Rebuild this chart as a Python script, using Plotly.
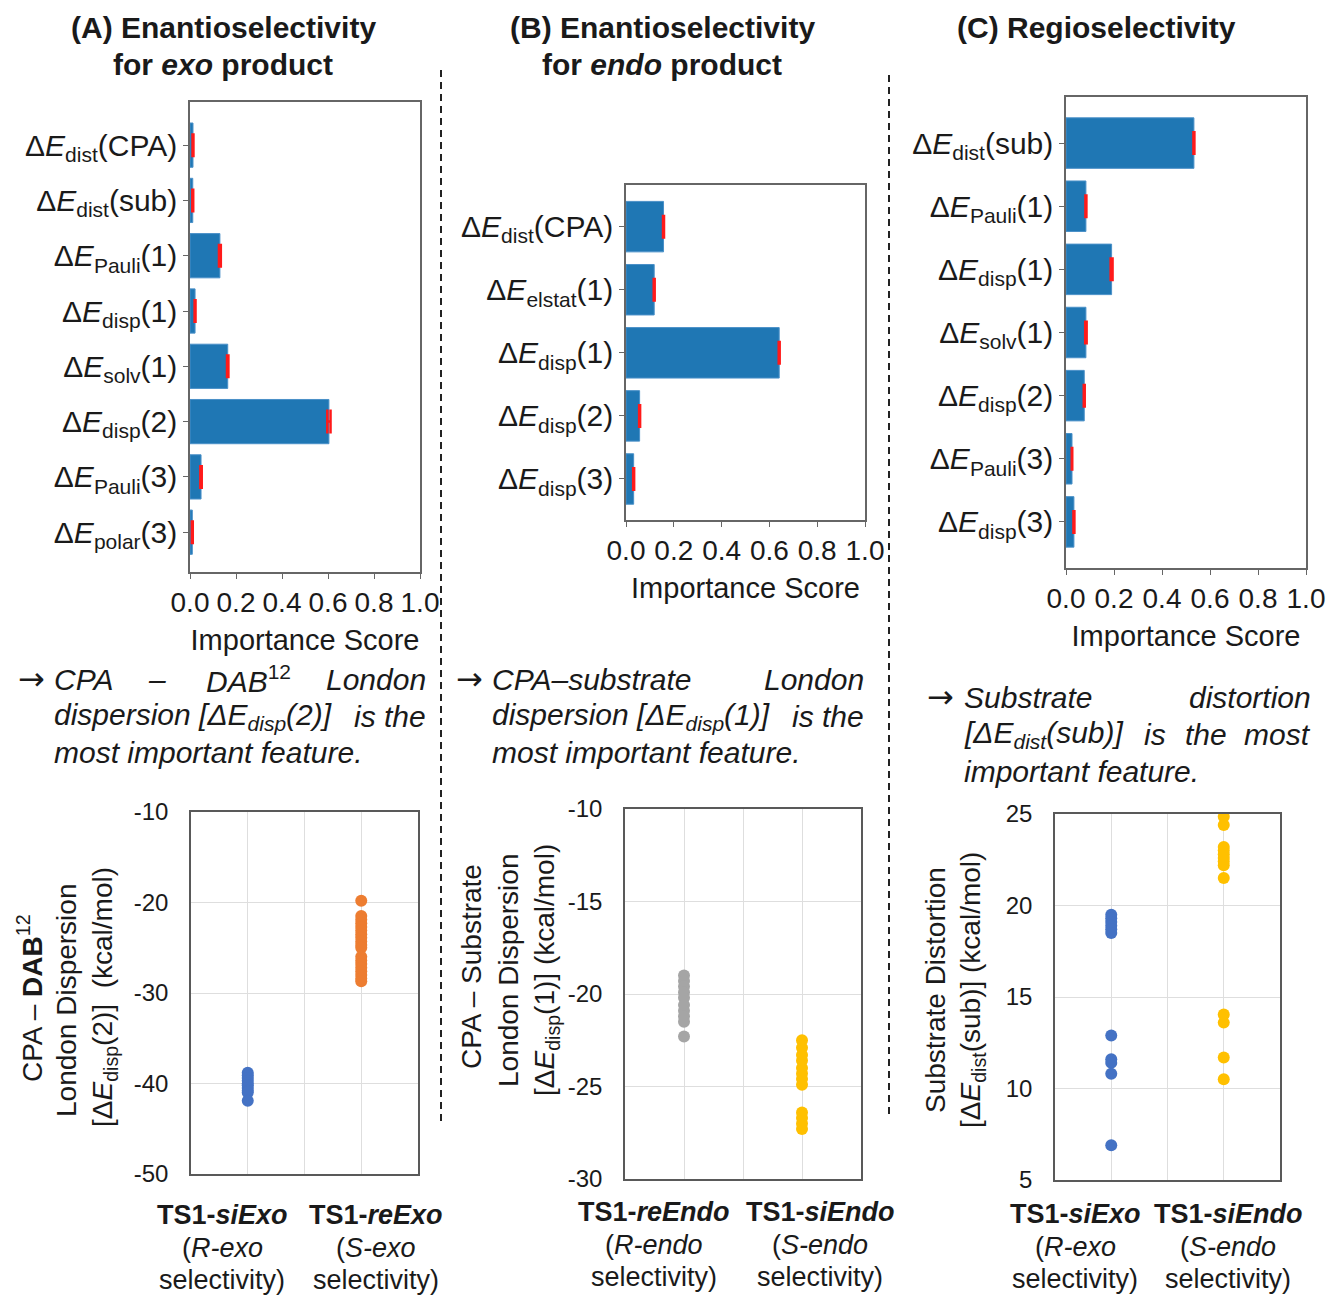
import plotly.graph_objects as go

W, H = 1329, 1297
FONT = "Liberation Sans, Arial, sans-serif"
TXT = "#1a1a1a"

# ---------------- data ----------------
bar_labels_A = ["Δ<i>E</i><sub>dist</sub>(CPA)", "Δ<i>E</i><sub>dist</sub>(sub)", "Δ<i>E</i><sub>Pauli</sub>(1)",
                "Δ<i>E</i><sub>disp</sub>(1)", "Δ<i>E</i><sub>solv</sub>(1)", "Δ<i>E</i><sub>disp</sub>(2)",
                "Δ<i>E</i><sub>Pauli</sub>(3)", "Δ<i>E</i><sub>polar</sub>(3)"]
bar_values_A = [0.013, 0.012, 0.130, 0.022, 0.164, 0.604, 0.048, 0.010]
bar_err_A = [0.002, 0.002, 0.004, 0.002, 0.003, 0.007, 0.003, 0.002]

bar_labels_B = ["Δ<i>E</i><sub>dist</sub>(CPA)", "Δ<i>E</i><sub>elstat</sub>(1)", "Δ<i>E</i><sub>disp</sub>(1)",
                "Δ<i>E</i><sub>disp</sub>(2)", "Δ<i>E</i><sub>disp</sub>(3)"]
bar_values_B = [0.157, 0.118, 0.641, 0.057, 0.032]
bar_err_B = [0.002, 0.002, 0.002, 0.002, 0.002]

bar_labels_C = ["Δ<i>E</i><sub>dist</sub>(sub)", "Δ<i>E</i><sub>Pauli</sub>(1)", "Δ<i>E</i><sub>disp</sub>(1)",
                "Δ<i>E</i><sub>solv</sub>(1)", "Δ<i>E</i><sub>disp</sub>(2)", "Δ<i>E</i><sub>Pauli</sub>(3)",
                "Δ<i>E</i><sub>disp</sub>(3)"]
bar_values_C = [0.533, 0.083, 0.190, 0.083, 0.076, 0.025, 0.033]
bar_err_C = [0.002, 0.002, 0.004, 0.003, 0.002, 0.001, 0.002]

bar_x_ticks = [0, 0.2, 0.4, 0.6, 0.8, 1.0]
bar_x_ticktext = ["0.0", "0.2", "0.4", "0.6", "0.8", "1.0"]

scatA_siExo = [-38.8, -39.1, -39.4, -39.7, -40.0, -40.2, -40.5, -40.8, -41.0, -41.9]
scatA_reExo = [-19.8, -21.5, -21.9, -22.3, -22.7, -23.1, -23.5, -23.9, -24.3, -24.7, -25.0,
               -26.0, -26.4, -26.8, -27.2, -27.6, -28.0, -28.4, -28.7]
scatB_reEndo = [-19.0, -19.3, -19.6, -19.9, -20.2, -20.6, -20.9, -21.2, -21.5, -22.3]
scatB_siEndo = [-22.5, -22.9, -23.3, -23.6, -24.0, -24.3, -24.6, -24.9, -26.4, -26.7, -27.0, -27.3]
scatC_siExo = [19.5, 19.3, 19.1, 18.9, 18.7, 18.5, 12.9, 11.6, 11.4, 10.8, 6.9]
scatC_siEndo = [24.85, 24.4, 23.2, 23.0, 22.8, 22.6, 22.4, 22.2, 21.5, 14.05, 13.6, 11.7, 10.5]

scatA_yticks = [-50, -40, -30, -20, -10]
scatA_yticktext = ["-50", "-40", "-30", "-20", "-10"]
scatB_yticks = [-30, -25, -20, -15, -10]
scatB_yticktext = ["-30", "-25", "-20", "-15", "-10"]
scatC_yticks = [5, 10, 15, 20, 25]
scatC_yticktext = ["5", "10", "15", "20", "25"]

scat_groups = [1, 3]  # group index positions on the category axis

BLUE = "#1f77b4"
C_BLUE = "#4472C4"
C_ORANGE = "#ED7D31"
C_GRAY = "#A5A5A5"
C_YELLOW = "#FFC000"


def dx(a, b):
    return [a / W, b / W]


def dy(top, bottom):
    return [1 - bottom / H, 1 - top / H]


fig = go.Figure()


def add_bar(labels, values, errs, n):
    fig.add_trace(go.Bar(
        y=labels, x=values, orientation="h",
        marker=dict(color=BLUE, line=dict(color="#4a90c8", width=1)),
        width=0.8,
        error_x=dict(type="data", array=errs, color="#ff1a1a", thickness=2.5, width=12),
        xaxis="x" if n == 1 else f"x{n}", yaxis="y" if n == 1 else f"y{n}",
        showlegend=False,
    ))


add_bar(bar_labels_A, bar_values_A, bar_err_A, 1)
add_bar(bar_labels_B, bar_values_B, bar_err_B, 2)
add_bar(bar_labels_C, bar_values_C, bar_err_C, 3)


def add_scatter(vals, gi, color, n):
    fig.add_trace(go.Scatter(
        x=[scat_groups[gi]] * len(vals), y=vals, mode="markers",
        marker=dict(color=color, size=12),
        xaxis=f"x{n}", yaxis=f"y{n}", showlegend=False,
    ))


add_scatter(scatA_siExo, 0, C_BLUE, 4)
add_scatter(scatA_reExo, 1, C_ORANGE, 4)
add_scatter(scatB_reEndo, 0, C_GRAY, 5)
add_scatter(scatB_siEndo, 1, C_YELLOW, 5)
add_scatter(scatC_siExo, 0, C_BLUE, 6)
add_scatter(scatC_siEndo, 1, C_YELLOW, 6)

bar_x_common = dict(range=[0, 1.0], tickvals=bar_x_ticks, ticktext=bar_x_ticktext, automargin=False,
                    ticks="outside", ticklen=5, tickcolor="#666",
                    showline=True, mirror=True, linecolor="#666", linewidth=1.5,
                    showgrid=False, zeroline=False,
                    tickfont=dict(size=28, color=TXT, family=FONT),
                    title=dict(text="Importance Score", font=dict(size=29, color=TXT, family=FONT), standoff=12))
bar_y_common = dict(type="category", ticks="outside", ticklen=5, tickcolor="#666", automargin=False,
                    showline=True, mirror=True, linecolor="#666", linewidth=1.5,
                    showgrid=False, zeroline=False,
                    tickfont=dict(size=30, color=TXT, family=FONT))

scat_x_common = dict(range=[0, 4], tickvals=[1, 2, 3], showticklabels=False, ticks="", automargin=False,
                     showline=True, mirror=True, linecolor="#595959", linewidth=1.5,
                     showgrid=True, gridcolor="#dedede", gridwidth=1, zeroline=False)
scat_y_common = dict(ticks="", showline=True, mirror=True, linecolor="#595959", linewidth=1.5,
                     showgrid=True, gridcolor="#dedede", gridwidth=1, zeroline=False, automargin=False,
                     tickfont=dict(size=24, color=TXT, family=FONT), ticklabelstandoff=16)

fig.update_layout(
    width=W, height=H, margin=dict(l=0, r=0, t=0, b=0, autoexpand=False),
    autosize=False,
    paper_bgcolor="white", plot_bgcolor="white",
    font=dict(family=FONT, color=TXT),
    xaxis=dict(domain=dx(190, 420), anchor="y", **bar_x_common),
    yaxis=dict(domain=dy(102, 572), anchor="x", range=[7.72, -0.78], **bar_y_common),
    xaxis2=dict(domain=dx(626, 865), anchor="y2", **bar_x_common),
    yaxis2=dict(domain=dy(185, 520), anchor="x2", range=[4.65, -0.66], **bar_y_common),
    xaxis3=dict(domain=dx(1066, 1306), anchor="y3", **bar_x_common),
    yaxis3=dict(domain=dy(97, 568), anchor="x3", range=[6.73, -0.73], **bar_y_common),
    xaxis4=dict(domain=dx(191, 418), anchor="y4", **scat_x_common),
    yaxis4=dict(domain=dy(812, 1174), anchor="x4", range=[-50, -10], tickvals=scatA_yticks,
                ticktext=scatA_yticktext, **scat_y_common),
    xaxis5=dict(domain=dx(625, 861), anchor="y5", **scat_x_common),
    yaxis5=dict(domain=dy(809, 1179), anchor="x5", range=[-30, -10], tickvals=scatB_yticks,
                ticktext=scatB_yticktext, **scat_y_common),
    xaxis6=dict(domain=dx(1055, 1280), anchor="y6", **scat_x_common),
    yaxis6=dict(domain=dy(814, 1180), anchor="x6", range=[5, 25], tickvals=scatC_yticks,
                ticktext=scatC_yticktext, **scat_y_common),
)

annotations = []


def ann(text, px, py, size=30, xanchor="center", angle=0, family=FONT):
    annotations.append(dict(text=text, x=px / W, y=1 - py / H, xref="paper", yref="paper",
                            xanchor=xanchor, yanchor="middle", showarrow=False, textangle=angle,
                            font=dict(size=size, color=TXT, family=family)))


# Panel titles
ann("<b>(A) Enantioselectivity</b>", 223, 28)
ann("<b>for <i>exo</i> product</b>", 223, 65)
ann("<b>(B) Enantioselectivity</b>", 662, 28)
ann("<b>for <i>endo</i> product</b>", 662, 65)
ann("<b>(C) Regioselectivity</b>", 1096, 28)

ARROW_FONT = "DejaVu Sans, Liberation Sans, sans-serif"

# Conclusions text
ann("→", 16, 679, xanchor="left", family=ARROW_FONT, size=32)
ann("<i>CPA</i>", 52, 679, xanchor="left")
ann("<i>–</i>", 157, 679)
ann("<i>DAB</i><sup>12</sup>", 248, 679)
ann("<i>London</i>", 428, 679, xanchor="right")
ann("<i>dispersion [ΔE<sub>disp</sub>(2)]</i>", 52, 716, xanchor="left")
ann("<i>is the</i>", 428, 716, xanchor="right")
ann("<i>most important feature.</i>", 52, 752, xanchor="left")

ann("→", 454, 679, xanchor="left", family=ARROW_FONT, size=32)
ann("<i>CPA–substrate</i>", 490, 679, xanchor="left")
ann("<i>London</i>", 866, 679, xanchor="right")
ann("<i>dispersion [ΔE<sub>disp</sub>(1)]</i>", 490, 716, xanchor="left")
ann("<i>is the</i>", 866, 716, xanchor="right")
ann("<i>most important feature.</i>", 490, 752, xanchor="left")

ann("→", 925, 697, xanchor="left", family=ARROW_FONT, size=32)
ann("<i>Substrate</i>", 962, 697, xanchor="left")
ann("<i>distortion</i>", 1313, 697, xanchor="right")
ann("<i>[ΔE<sub>dist</sub>(sub)]</i>", 962, 734, xanchor="left")
ann("<i>is</i>", 1155, 734)
ann("<i>the</i>", 1206, 734)
ann("<i>most</i>", 1313, 734, xanchor="right")
ann("<i>important feature.</i>", 962, 771, xanchor="left")

# Scatter y-axis titles
ann("CPA – <b>DAB</b><sup>12</sup>", 30, 998, size=28, angle=-90)
ann("London Dispersion", 67, 1000, size=28, angle=-90)
ann("[Δ<i>E</i><sub>disp</sub>(2)]  (kcal/mol)", 104, 997, size=28, angle=-90)

ann("CPA – Substrate", 471, 967, size=28, angle=-90)
ann("London Dispersion", 508, 970, size=28, angle=-90)
ann("[Δ<i>E</i><sub>disp</sub>(1)] (kcal/mol)", 546, 970, size=28, angle=-90)

ann("Substrate Distortion", 935, 990, size=28, angle=-90)
ann("[Δ<i>E</i><sub>dist</sub>(sub)] (kcal/mol)", 972, 990, size=28, angle=-90)


# Scatter category labels
def cat_label(name, sel, px, py0):
    ann(f"<b>{name}</b>", px, py0, size=27)
    ann(f"(<i>{sel}</i>", px, py0 + 33, size=27)
    ann("selectivity)", px, py0 + 65, size=27)


cat_label("TS1-<i>siExo</i>", "R-exo", 222, 1215)
cat_label("TS1-<i>reExo</i>", "S-exo", 376, 1215)
cat_label("TS1-<i>reEndo</i>", "R-endo", 654, 1212)
cat_label("TS1-<i>siEndo</i>", "S-endo", 820, 1212)
cat_label("TS1-<i>siExo</i>", "R-exo", 1075, 1214)
cat_label("TS1-<i>siEndo</i>", "S-endo", 1228, 1214)

fig.update_layout(annotations=annotations)

# Dashed separators
shapes = [
    dict(type="line", xref="paper", yref="paper", x0=441 / W, x1=441 / W, y0=1 - 70 / H, y1=1 - 1122 / H,
         line=dict(color="#222", width=2, dash="7px,5px")),
    dict(type="line", xref="paper", yref="paper", x0=889 / W, x1=889 / W, y0=1 - 75 / H, y1=1 - 1118 / H,
         line=dict(color="#222", width=2, dash="7px,5px")),
]
fig.update_layout(shapes=shapes)

fig.write_html(
    "out.html",
    config={"displayModeBar": False},
    post_script="document.body.style.margin='0';document.body.style.padding='0';"
                "document.body.style.overflow='hidden';"
                "document.documentElement.style.overflow='hidden';",
)
